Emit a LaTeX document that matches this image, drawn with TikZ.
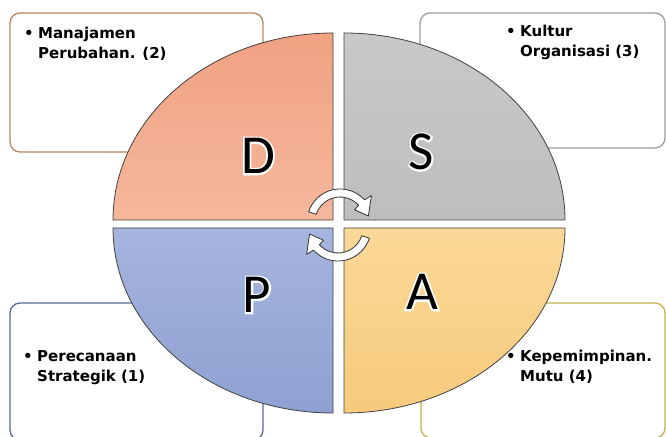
\documentclass[tikz,border=0pt]{standalone}
\usepackage{fontspec}
\newfontfamily\boxfont{DejaVu Sans}
\newfontfamily\bigfont{Carlito}
\newcommand\glowletter[1]{\leavevmode\rlap{\special{pdf:literal direct 1 Tr 3.5 w 1 1 1 RG}#1\special{pdf:literal direct 0 Tr 0.4 w 0 0 0 RG}}#1}
\definecolor{boxbrown}{HTML}{B8865F}
\definecolor{boxgray}{HTML}{9C9C9C}
\definecolor{boxblue}{HTML}{54699C}
\definecolor{boxolive}{HTML}{C6B24C}
\definecolor{dtop}{HTML}{F0A282}
\definecolor{dbot}{HTML}{F5B79C}
\definecolor{stop}{HTML}{C8C8C8}
\definecolor{sbot}{HTML}{BEBEBE}
\definecolor{ptop}{HTML}{A6B5DE}
\definecolor{pbot}{HTML}{8FA0D2}
\definecolor{atop}{HTML}{FBD898}
\definecolor{abot}{HTML}{F7CA7C}
\begin{document}
\begin{tikzpicture}[x=1pt,y=1pt,
  box/.style={line width=1.3pt, rounded corners=10pt, fill=white},
  quad/.style={draw=black!75, line width=0.8pt},
  itemtext/.style={anchor=north west, inner sep=0pt, align=left,
    font=\boxfont\bfseries\fontsize{15pt}{20pt}\selectfont},
  letter/.style={inner sep=0pt, font=\bigfont\fontsize{55pt}{60pt}\selectfont},
  cyc/.style={fill=white, draw=black!80, line width=0.8pt, line join=round}]
\useasboundingbox (0,0) rectangle (666,436);
% boxes
\draw[box, draw=boxbrown] (10,284) rectangle (263,423);
\draw[box, draw=boxgray] (420,288) rectangle (665,423);
\draw[box, draw=boxblue] (10,-4) rectangle (263,133);
\draw[box, draw=boxolive] (421,-2) rectangle (665,133);
% quadrants
\draw[quad, top color=dtop, bottom color=dbot] (333,216) -- (113,216) arc[start angle=180, end angle=90, x radius=220pt, y radius=187pt] -- cycle;
\draw[quad, top color=stop, bottom color=sbot] (344,216) -- (344,403) arc[start angle=90, end angle=0, x radius=221pt, y radius=187pt] -- cycle;
\draw[quad, top color=ptop, bottom color=pbot] (333,208) -- (113,208) arc[start angle=180, end angle=270, x radius=220pt, y radius=185pt] -- cycle;
\draw[quad, top color=atop, bottom color=abot] (344,208) -- (565,208) arc[start angle=0, end angle=-90, x radius=221pt, y radius=185pt] -- cycle;
% cycle arrows
\begin{scope}[shift={(340,214)}]
\draw[cyc] (162:25pt) arc[start angle=162, end angle=42, radius=25pt] -- (40:19pt) -- (12:29pt) -- (40:41pt) -- (42:33pt) arc[start angle=42, end angle=162, radius=33pt] -- cycle;
\end{scope}
\begin{scope}[shift={(338,208)}]
\draw[cyc] (-18:25pt) arc[start angle=-18, end angle=-138, radius=25pt] -- (220:19pt) -- (192:29pt) -- (220:41pt) -- (222:33pt) arc[start angle=222, end angle=342, radius=33pt] -- cycle;
\end{scope}
% letters
\node[letter] (D) at (258,280) {\glowletter{D}};
\node[letter] (S) at (421,284) {\glowletter{S}};
\node[letter] (P) at (257,141) {\glowletter{P}};
\node[letter] (A) at (422,144) {\glowletter{A}};
% texts
\node[itemtext] (t2) at (24,409) {\makebox[14pt][l]{•}Manajamen\\\hspace*{14pt}Perubahan. (2)};
\node[itemtext] (t3) at (506,411) {\makebox[14pt][l]{•}Kultur\\\hspace*{14pt}Organisasi (3)};
\node[itemtext] (t1) at (23,86) {\makebox[14pt][l]{•}Perecanaan\\\hspace*{14pt}Strategik (1)};
\node[itemtext] (t4) at (506,86) {\makebox[14pt][l]{•}Kepemimpinan.\\\hspace*{14pt}Mutu (4)};
\end{tikzpicture}
\end{document}
